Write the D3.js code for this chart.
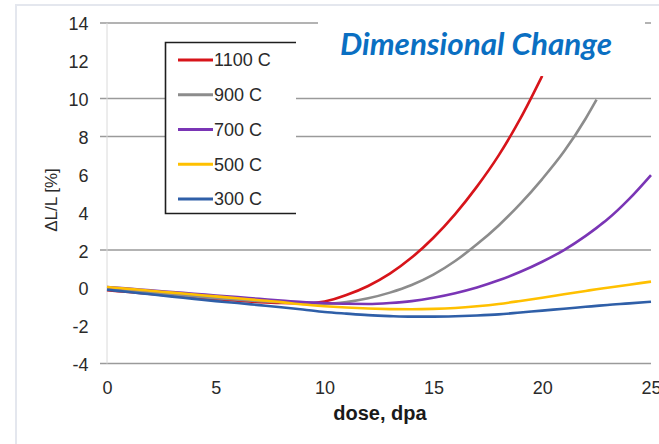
<!DOCTYPE html>
<html>
<head>
<meta charset="utf-8">
<script src="https://cdn.jsdelivr.net/npm/d3@7"></script>
<style>
  html, body { margin: 0; padding: 0; background: #fff; }
  svg { display: block; }
</style>
</head>
<body>
<svg id="chart" width="659" height="444"></svg>
<script>
// Dose axis (dpa) shared by every series
const dose = [0, 1, 2, 3, 4, 5, 6, 7, 8, 9, 10, 11, 12, 13, 14, 15, 16, 17, 18, 19, 20, 21, 22, 22.5, 23, 24, 25];

// Dimensional change ΔL/L [%] per irradiation temperature
const c1100 = [-0.12, -0.22, -0.32, -0.42, -0.52, -0.60, -0.68, -0.75, -0.80, -0.82, -0.72, -0.38, 0.10, 0.75, 1.60, 2.65, 3.90, 5.35, 7.00, 8.95, 11.2, null, null, null, null, null, null];
const c900  = [-0.05, -0.15, -0.25, -0.35, -0.45, -0.54, -0.62, -0.70, -0.76, -0.80, -0.83, -0.75, -0.55, -0.25, 0.15, 0.70, 1.42, 2.30, 3.30, 4.45, 5.75, 7.20, 8.95, 9.95, null, null, null];
const c700  = [0.05, -0.04, -0.13, -0.22, -0.31, -0.40, -0.49, -0.58, -0.67, -0.75, -0.80, -0.84, -0.85, -0.80, -0.70, -0.52, -0.28, 0.02, 0.40, 0.85, 1.38, 2.00, 2.75, 3.17, 3.62, 4.70, 5.96];
const c500  = [0.05, -0.05, -0.15, -0.25, -0.35, -0.45, -0.55, -0.65, -0.75, -0.88, -0.97, -1.04, -1.09, -1.12, -1.13, -1.11, -1.06, -0.97, -0.85, -0.69, -0.52, -0.34, -0.16, -0.07, 0.01, 0.17, 0.33];
const c300  = [-0.10, -0.22, -0.34, -0.46, -0.58, -0.70, -0.80, -0.91, -1.02, -1.14, -1.27, -1.36, -1.44, -1.49, -1.52, -1.52, -1.50, -1.46, -1.40, -1.30, -1.20, -1.10, -1.00, -0.95, -0.90, -0.82, -0.73];

const seriesNames  = ["1100 C", "900 C", "700 C", "500 C", "300 C"];
const seriesColors = ["#d7141a", "#8c8c8c", "#7a35b5", "#ffc000", "#2f5fa8"];
const seriesValues = [c1100, c900, c700, c500, c300];

const yTicks = [-4, -2, 0, 2, 4, 6, 8, 10, 12, 14];
const xTicks = [0, 5, 10, 15, 20, 25];
const gridValues = [14, 10, 8, 2, -4];

const svg = d3.select("#chart");
const W = 659, H = 444;

const x = d3.scaleLinear().domain([0, 25]).range([107, 651]);
const y = d3.scaleLinear().domain([-4, 14]).range([363.6, 22.9]);

// Outer page frame
svg.append("path")
  .attr("d", `M16,${H} L16,5 L${W},5`)
  .attr("fill", "none")
  .attr("stroke", "#e4e7ee")
  .attr("stroke-width", 2);

// Horizontal gridlines
svg.append("g").selectAll("line")
  .data(gridValues)
  .join("line")
  .attr("x1", 100).attr("x2", x(25))
  .attr("y1", d => y(d)).attr("y2", d => y(d))
  .attr("stroke", "#9a9a9a")
  .attr("stroke-width", 1.5);

// Vertical value axis line
svg.append("line")
  .attr("x1", x(0)).attr("x2", x(0))
  .attr("y1", y(14)).attr("y2", y(-4))
  .attr("stroke", "#dadada")
  .attr("stroke-width", 1);

// Plain hyphen-minus labels
const plain = d => String(d);

// Y axis tick labels
const yAxis = svg.append("g")
  .attr("transform", "translate(88.5,0)")
  .call(d3.axisLeft(y).tickValues(yTicks).tickSize(0).tickPadding(0).tickFormat(plain));
yAxis.select(".domain").remove();
yAxis.selectAll("text")
  .attr("font-family", "Liberation Sans, Arial, sans-serif")
  .attr("font-size", 18)
  .attr("fill", "#2a2a2a")
  .attr("dy", "0.39em");

// X axis tick labels
const xAxis = svg.append("g")
  .attr("transform", `translate(0,${y(-4)})`)
  .call(d3.axisBottom(x).tickValues(xTicks).tickSize(0).tickPadding(18).tickFormat(plain));
xAxis.select(".domain").remove();
xAxis.selectAll("text")
  .attr("font-family", "Liberation Sans, Arial, sans-serif")
  .attr("font-size", 18)
  .attr("fill", "#2a2a2a");

// Axis titles
svg.append("text")
  .attr("x", 380).attr("y", 420)
  .attr("text-anchor", "middle")
  .attr("font-family", "Liberation Sans, Arial, sans-serif")
  .attr("font-weight", "bold")
  .attr("font-size", 20)
  .attr("fill", "#1a1a1a")
  .text("dose, dpa");

svg.append("text")
  .attr("transform", "translate(57,200) rotate(-90)")
  .attr("text-anchor", "middle")
  .attr("font-family", "Liberation Sans, Arial, sans-serif")
  .attr("font-size", 17)
  .attr("fill", "#2a2a2a")
  .text("ΔL/L [%]");

// Curves
const line = d3.line()
  .defined(d => d[1] !== null)
  .x(d => x(d[0]))
  .y(d => y(d[1]))
  .curve(d3.curveMonotoneX);

const curves = svg.append("g");
seriesValues.forEach((vals, i) => {
  curves.append("path")
    .datum(dose.map((d, k) => [d, vals[k]]))
    .attr("fill", "none")
    .attr("stroke", seriesColors[i])
    .attr("stroke-width", 2.6)
    .attr("stroke-linejoin", "round")
    .attr("d", line);
});

// Title panel
svg.append("rect")
  .attr("x", 318).attr("y", 8)
  .attr("width", 327).attr("height", 68)
  .attr("fill", "#fff");

svg.append("text")
  .attr("x", 340).attr("y", 55)
  .attr("font-family", "Lato, 'Open Sans', sans-serif")
  .attr("font-weight", "bold")
  .attr("font-style", "italic")
  .attr("font-size", 30)
  .attr("fill", "#0a6fc2")
  .attr("textLength", 272)
  .attr("lengthAdjust", "spacingAndGlyphs")
  .text("Dimensional Change");

// Legend
const lg = svg.append("g");
lg.append("rect")
  .attr("x", 165).attr("y", 42)
  .attr("width", 131).attr("height", 172)
  .attr("fill", "#fff");
lg.append("path")
  .attr("d", "M296,42.5 L165.5,42.5 L165.5,213.5 L296,213.5")
  .attr("fill", "none")
  .attr("stroke", "#1e1e1e")
  .attr("stroke-width", 1.6);

const legendY = d3.scalePoint().domain(seriesNames).range([60, 199]);
seriesNames.forEach((name, i) => {
  lg.append("line")
    .attr("x1", 178).attr("x2", 213)
    .attr("y1", legendY(name)).attr("y2", legendY(name))
    .attr("stroke", seriesColors[i])
    .attr("stroke-width", 3);
  lg.append("text")
    .attr("x", 214).attr("y", legendY(name))
    .attr("dy", "0.36em")
    .attr("font-family", "Liberation Sans, Arial, sans-serif")
    .attr("font-size", 18)
    .attr("fill", "#2a2a2a")
    .text(name);
});
</script>
</body>
</html>
